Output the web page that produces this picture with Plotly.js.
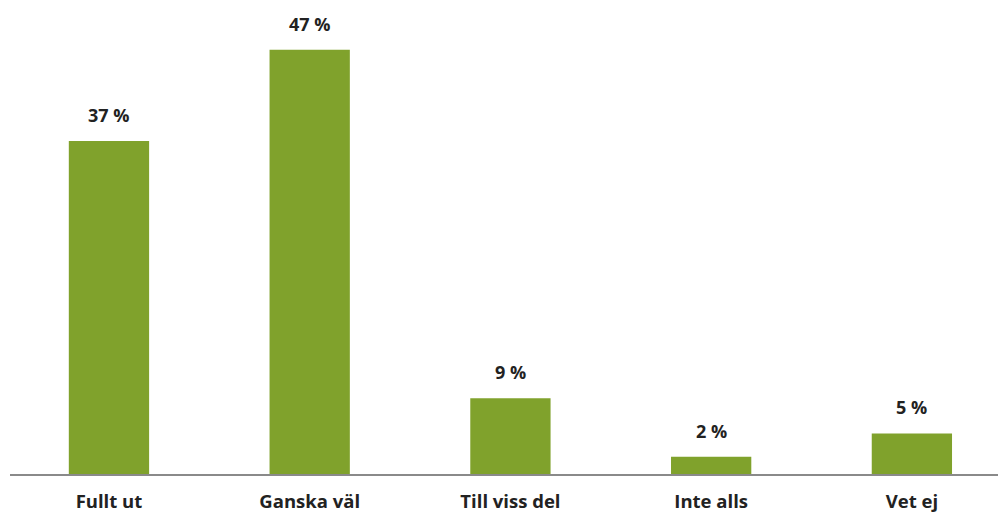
<!DOCTYPE html>
<html>
<head>
<meta charset="utf-8">
<script src="https://cdn.plot.ly/plotly-3.0.1.min.js"></script>
<style>
html,body{margin:0;padding:0;background:#fff;}
#chart{width:998px;height:522px;}
</style>
</head>
<body>
<div id="chart"></div>
<script>
const categories = ["Fullt ut", "Ganska väl", "Till viss del", "Inte alls", "Vet ej"];
const values = [36.9, 47, 8.4, 1.9, 4.5];
const labels = ["37 %", "47 %", "9 %", "2 %", "5 %"];

const FONT = "'Open Sans', Lato, sans-serif";
const trace = {
  type: "bar",
  x: categories,
  y: values,
  width: 0.4,
  marker: {color: "#80a22c"},
  hoverinfo: "none"
};
const annotations = categories.map((c, i) => ({
  x: c, y: values[i], text: "<b>" + labels[i] + "</b>",
  showarrow: false, yanchor: "bottom", yshift: 12,
  font: {family: FONT, size: 18, color: "#222"}
}));
const layout = {
  width: 998, height: 522,
  margin: {l: 10, r: 0, t: 10, b: 48},
  paper_bgcolor: "#fff", plot_bgcolor: "#fff",
  showlegend: false,
  xaxis: {
    type: "category",
    range: [-0.493, 4.429],
    showgrid: false, zeroline: false,
    showline: true, linecolor: "#8a8a8a", linewidth: 1.5,
    ticks: "", ticklen: 0,
    ticklabelstandoff: 10,
    tickfont: {family: FONT, size: 18.5, color: "#222", weight: "bold"},
    fixedrange: true
  },
  yaxis: {
    range: [0, 51.4],
    visible: false, showgrid: false, zeroline: false,
    fixedrange: true
  },
  annotations: annotations
};
Plotly.newPlot("chart", [trace], layout, {displayModeBar: false, staticPlot: true});
</script>
</body>
</html>
